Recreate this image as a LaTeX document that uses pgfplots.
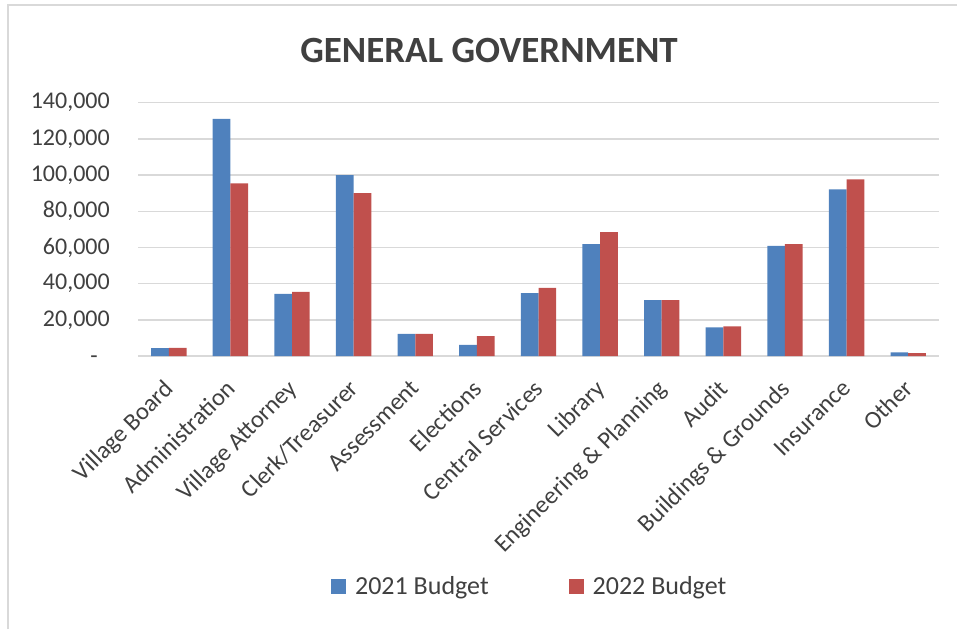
\documentclass[border=0pt]{standalone}
\usepackage{pgfplots}
\pgfplotsset{compat=1.18}
\usepackage{fontspec}
\setmainfont{Carlito}
\definecolor{cblue}{HTML}{4F81BD}
\definecolor{cred}{HTML}{C0504D}
\definecolor{cgrid}{HTML}{D9D9D9}
\definecolor{ctext}{HTML}{404040}
\begin{document}
\begin{tikzpicture}
\useasboundingbox (0pt,0pt) rectangle (957pt,-629pt);
\draw[cgrid, line width=1.5pt] (8pt,-629pt) -- (8pt,-5pt) -- (957pt,-5pt);
\node[anchor=base, text=ctext, font=\fontsize{37}{37}\selectfont\bfseries] at (489pt,-62pt) {GENERAL GOVERNMENT};
\begin{axis}[
  at={(138pt,-356pt)}, anchor=south west,
  scale only axis, width=801pt, height=253.3pt,
  ybar=0pt, bar width=17.7pt,
  xmin=-0.5, xmax=12.5, ymin=0, ymax=140000,
  scaled y ticks=false,
  xtick={0,...,12},
  xticklabels={Village Board, Administration, Village Attorney, Clerk/Treasurer, Assessment, Elections, Central Services, Library, Engineering \& Planning, Audit, Buildings \& Grounds, Insurance, Other},
  ytick={0,20000,...,140000},
  yticklabels={{-\phantom{0}},{20,000},{40,000},{60,000},{80,000},{100,000},{120,000},{140,000}},
  ymajorgrids, major grid style={cgrid, line width=1.5pt},
  axis line style={draw=none}, major tick length=0pt,
  yticklabel style={anchor=east, inner sep=0pt, xshift=-28pt, text=ctext, font=\fontsize{24}{24}\selectfont},
  xticklabel style={xshift=-6pt, yshift=-22pt, rotate=45, anchor=north east, inner sep=0pt, text=ctext, font=\fontsize{24.5}{24.5}\selectfont},
  legend columns=2,
  legend style={at={(axis description cs:0.489,-0.908)}, anchor=center, draw=none, fill=none,
    font=\fontsize{26}{26}\selectfont, text=ctext,
    /tikz/every odd column/.append style={column sep=7pt},
    /tikz/every even column/.append style={column sep=78pt}},
  legend image code/.code={\fill[#1,draw=none] (0pt,-7.5pt) rectangle (15pt,7.5pt);},
]
\addplot[fill=cblue, draw=none] coordinates {(0,4300) (1,131100) (2,34400) (3,100000) (4,12300) (5,6100) (6,34800) (7,61900) (8,30900) (9,15800) (10,60900) (11,92100) (12,2000)};
\addplot[fill=cred, draw=none] coordinates {(0,4500) (1,95400) (2,35400) (3,90000) (4,12300) (5,11000) (6,37600) (7,68500) (8,30900) (9,16400) (10,61900) (11,97600) (12,1600)};
\legend{2021 Budget, 2022 Budget}
\end{axis}
\end{tikzpicture}
\end{document}
